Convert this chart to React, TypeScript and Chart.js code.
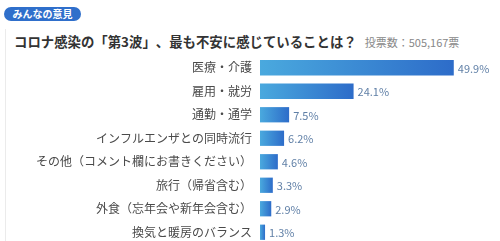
import React, { useEffect, useRef } from "react";
import { Chart, registerables } from "chart.js";

Chart.register(...registerables);

const badgeText = "みんなの意見";
const titleText = "コロナ感染の「第3波」、最も不安に感じていることは？";
const voteText = "投票数：505,167票";

const categories = [
  "医療・介護",
  "雇用・就労",
  "通勤・通学",
  "インフルエンザとの同時流行",
  "その他（コメント欄にお書きください）",
  "旅行（帰省含む）",
  "外食（忘年会や新年会含む）",
  "換気と暖房のバランス",
];
const values = [49.9, 24.1, 7.5, 6.2, 4.6, 3.3, 2.9, 1.3];

const FONT = "'Noto Sans CJK JP', 'Noto Sans', sans-serif";

const valueLabelPlugin = {
  id: "valueLabels",
  afterDatasetsDraw(chart: any) {
    const ctx = chart.ctx;
    const meta = chart.getDatasetMeta(0);
    ctx.save();
    ctx.font = `11px ${FONT}`;
    ctx.fillStyle = "#5f7fa6";
    ctx.textAlign = "left";
    ctx.textBaseline = "middle";
    meta.data.forEach((el: any, i: number) => {
      ctx.fillText(values[i].toFixed(1) + "%", el.x + 4, el.y + 1);
    });
    ctx.restore();
  },
};

export default function App() {
  const canvasRef = useRef<HTMLCanvasElement | null>(null);

  useEffect(() => {
    document.body.style.margin = "0";
    const canvas = canvasRef.current;
    if (!canvas) return;
    const chart = new Chart(canvas, {
      type: "bar",
      data: {
        labels: categories,
        datasets: [
          {
            data: values,
            backgroundColor: (c: any) => {
              const ch = c.chart;
              const xs = ch.scales && ch.scales.x;
              if (!xs || c.type !== "data") return "#3a88d2";
              const x0 = xs.getPixelForValue(0);
              const x1 = xs.getPixelForValue(c.raw);
              if (!isFinite(x0) || !isFinite(x1) || x1 <= x0) return "#3a88d2";
              const g = ch.ctx.createLinearGradient(x0, 0, x1, 0);
              g.addColorStop(0, "#4aa9de");
              g.addColorStop(1, "#2d6cc9");
              return g;
            },
            borderWidth: 0,
            barPercentage: 0.65,
            categoryPercentage: 1,
          },
        ],
      },
      options: {
        indexAxis: "y",
        animation: false,
        responsive: false,
        maintainAspectRatio: false,
        layout: { padding: { left: 0, right: 7, top: 0, bottom: 0 } },
        plugins: {
          legend: { display: false },
          tooltip: { enabled: false },
        },
        scales: {
          x: {
            min: 0,
            max: 60,
            display: false,
          },
          y: {
            grid: { display: false, drawTicks: true, tickLength: 8 },
            border: { display: false },
            ticks: {
              padding: 0,
              color: "#4a4a4a",
              font: { family: FONT, size: 12, lineHeight: 1 },
            },
            afterFit: (axis: any) => {
              axis.width = 260;
            },
          },
        },
      },
      plugins: [valueLabelPlugin],
    } as any);
    return () => chart.destroy();
  }, []);

  return (
    <div
      style={{
        position: "relative",
        width: 500,
        height: 241,
        overflow: "hidden",
        background: "#ffffff",
        fontFamily: FONT,
      }}
    >
      <div
        style={{
          position: "absolute",
          left: 4,
          top: 7,
          width: 77,
          height: 14,
          borderRadius: 7,
          background: "#2f6fcb",
          color: "#ffffff",
          fontSize: 10,
          fontWeight: 700,
          lineHeight: "14px",
          textAlign: "center",
        }}
      >
        {badgeText}
      </div>
      <div
        style={{
          position: "absolute",
          left: 5,
          top: 29,
          width: 1,
          height: 220,
          background: "#ebebeb",
        }}
      />
      <div
        style={{
          position: "absolute",
          left: 14,
          top: 31,
          whiteSpace: "nowrap",
          display: "flex",
          alignItems: "baseline",
          ["textSpacingTrim" as any]: "space-all",
        }}
      >
        <span style={{ fontSize: 13.4, fontWeight: 700, color: "#333333" }}>{titleText}</span>
        <span style={{ fontSize: 11, color: "#888888", marginLeft: 8 }}>{voteText}</span>
      </div>
      <canvas
        ref={canvasRef}
        width={500}
        height={200}
        style={{ position: "absolute", left: 0, top: 50, width: 500, height: 200 }}
      />
    </div>
  );
}
